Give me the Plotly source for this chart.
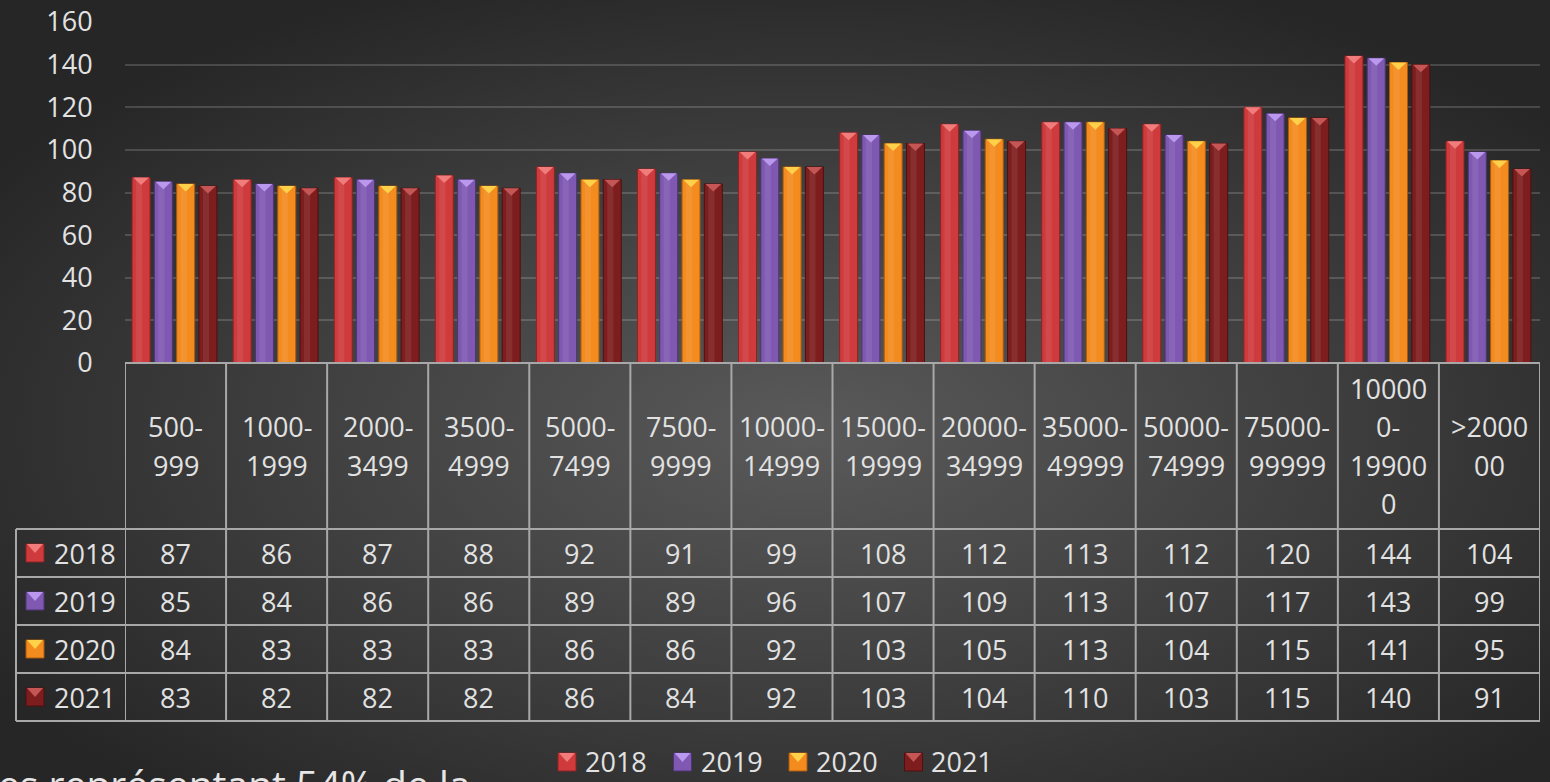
import base64
import plotly.graph_objects as go

# ---- data ----
categories = ["500-999", "1000-1999", "2000-3499", "3500-4999", "5000-7499",
              "7500-9999", "10000-14999", "15000-19999", "20000-34999",
              "35000-49999", "50000-74999", "75000-99999", "100000-199000",
              ">200000"]
years = ["2018", "2019", "2020", "2021"]
v2018 = [87, 86, 87, 88, 92, 91, 99, 108, 112, 113, 112, 120, 144, 104]
v2019 = [85, 84, 86, 86, 89, 89, 96, 107, 109, 113, 107, 117, 143, 99]
v2020 = [84, 83, 83, 83, 86, 86, 92, 103, 105, 113, 104, 115, 141, 95]
v2021 = [83, 82, 82, 82, 86, 84, 92, 103, 104, 110, 103, 115, 140, 91]
y_ticks = [0, 20, 40, 60, 80, 100, 120, 140, 160]
footer_text = "es représentant 54% de la"

series = [v2018, v2019, v2020, v2021]
base_colors = ["#CF3A3C", "#7F58B2", "#F38B1F", "#7D1D1E"]
cap_colors = ["#F07C7C", "#BA98EE", "#FFD04A", "#C45656"]
edge_colors = ["#8E2224", "#4E3474", "#A85A0E", "#4E1010"]

FONT = "Open Sans"
TXT = "#E2E2E2"
LINE = "#A8A8A8"

# ---- page geometry (pixels) ----
W, H = 1550, 782
ML, MR, MT, MB = 125, 10, 22, 419
PW, PH = W - ML - MR, H - MT - MB
AXIS_Y = H - MB                 # y pixel of the value 0 / table top
HEAD_BOT = 529                  # bottom of the category header row
ROW_H = 48
TABLE_LEFT = 16


def px_x(px):
    return (px - ML) / PW


def px_y(py):
    return (AXIS_Y - py) / PH


ncat = len(categories)
col_px = PW / ncat
bar_w = 18 / col_px
step = 22.3 / col_px
first_off = -(3 * step + bar_w) / 2 - 0.01
cap_h = 7.5 / PH * (y_ticks[-1] - y_ticks[0])

fig = go.Figure()
xs = list(range(ncat))

for k, (yr, vals) in enumerate(zip(years, series)):
    off = first_off + k * step
    fig.add_trace(go.Bar(
        x=xs, y=vals, name=yr, width=bar_w, offset=off,
        marker=dict(color=base_colors[k],
                    line=dict(color=edge_colors[k], width=1)),
        showlegend=False, hoverinfo="x+y+name",
    ))
    # soft sheen down the bar body
    fig.add_trace(go.Bar(
        x=xs, y=vals, width=bar_w * 0.34, offset=off + bar_w * 0.22,
        marker=dict(color="rgba(255,255,255,0.08)", line=dict(width=0)),
        showlegend=False, hoverinfo="skip",
    ))
    # bevelled cap on top of each bar
    tx, ty = [], []
    for i, v in enumerate(vals):
        x0 = i + off + bar_w * 0.06
        x1 = i + off + bar_w * 0.94
        xc = i + off + bar_w / 2
        tx += [x0, x1, xc, x0, None]
        ty += [v, v, v - cap_h, v, None]
    fig.add_trace(go.Scatter(
        x=tx, y=ty, mode="lines", fill="toself", fillcolor=cap_colors[k],
        line=dict(width=0, color=cap_colors[k]),
        showlegend=False, hoverinfo="skip",
    ))

shapes = []
annotations = []

# ---- table grid ----
x_right = 1.0
row_lines = [HEAD_BOT + r * ROW_H for r in range(len(years) + 1)]
table_bot = row_lines[-1]
shapes.append(dict(type="line", xref="paper", yref="paper",
                   x0=0, x1=x_right, y0=px_y(AXIS_Y), y1=px_y(AXIS_Y),
                   line=dict(color=LINE, width=2)))
for py in row_lines:
    shapes.append(dict(type="line", xref="paper", yref="paper",
                       x0=px_x(TABLE_LEFT), x1=x_right, y0=px_y(py), y1=px_y(py),
                       line=dict(color=LINE, width=2)))
for c in range(ncat + 1):
    shapes.append(dict(type="line", xref="x", yref="paper",
                       x0=c - 0.5, x1=c - 0.5,
                       y0=px_y(AXIS_Y), y1=px_y(table_bot),
                       line=dict(color=LINE, width=2)))
shapes.append(dict(type="line", xref="paper", yref="paper",
                   x0=px_x(TABLE_LEFT), x1=px_x(TABLE_LEFT),
                   y0=px_y(HEAD_BOT), y1=px_y(table_bot),
                   line=dict(color=LINE, width=2)))


def wrap(label, limit=5.6):
    """Greedy character wrap for the narrow header cells."""
    widths = {"-": 0.6}
    lines, cur, cw = [], "", 0.0
    for ch in label:
        w = widths.get(ch, 1.0)
        if cur and cw + w > limit:
            lines.append(cur)
            cur, cw = "", 0.0
        cur += ch
        cw += w
        if ch == "-":
            lines.append(cur)
            cur, cw = "", 0.0
    if cur:
        lines.append(cur)
    return lines


head_mid = (AXIS_Y + HEAD_BOT) / 2
line_gap = 38.3
for i, cat in enumerate(categories):
    parts = wrap(cat)
    n = len(parts)
    for j, part in enumerate(parts):
        cy = head_mid + (j - (n - 1) / 2) * line_gap
        annotations.append(dict(x=i, y=px_y(cy), xref="x", yref="paper",
                                text=part, showarrow=False,
                                xanchor="center", yanchor="middle",
                                font=dict(family=FONT, size=27, color=TXT)))


def key(px0, pyc, k):
    """Small bevelled colour key."""
    s = 18
    x0, x1 = px_x(px0), px_x(px0 + s)
    y0, y1 = px_y(pyc - s / 2), px_y(pyc + s / 2)
    xc, yc = px_x(px0 + s / 2), px_y(pyc)
    shapes.append(dict(type="rect", xref="paper", yref="paper",
                       x0=x0, x1=x1, y0=y1, y1=y0,
                       fillcolor=base_colors[k],
                       line=dict(color=edge_colors[k], width=1)))
    shapes.append(dict(type="path", xref="paper", yref="paper",
                       path=f"M {px_x(px0 + 1)},{y0} L {px_x(px0 + s - 1)},{y0} L {xc},{yc} Z",
                       fillcolor=cap_colors[k], line=dict(width=0)))


for r, (yr, vals) in enumerate(zip(years, series)):
    cy = HEAD_BOT + r * ROW_H + ROW_H / 2
    key(26, cy, r)
    annotations.append(dict(x=px_x(52), y=px_y(cy), xref="paper", yref="paper",
                            text=yr, showarrow=False, xanchor="left",
                            yanchor="middle",
                            font=dict(family=FONT, size=27, color=TXT)))
    for i, v in enumerate(vals):
        annotations.append(dict(x=i, y=px_y(cy), xref="x", yref="paper",
                                text=str(v), showarrow=False,
                                xanchor="center", yanchor="middle",
                                font=dict(family=FONT, size=27, color=TXT)))

# ---- bottom legend ----
leg_y = 761
leg_x0 = 558
leg_step = 115.5
for k, yr in enumerate(years):
    kx = leg_x0 + k * leg_step
    key(kx, leg_y + 1, k)
    annotations.append(dict(x=px_x(kx + 25), y=px_y(leg_y), xref="paper",
                            yref="paper", text=yr, showarrow=False,
                            xanchor="left", yanchor="middle",
                            font=dict(family=FONT, size=27, color=TXT)))

# caption text running off the lower edge
annotations.append(dict(x=px_x(-4), y=px_y(784), xref="paper", yref="paper",
                        text=footer_text, showarrow=False, xanchor="left",
                        yanchor="middle",
                        font=dict(family=FONT, size=39, color="#E6E6E6")))

# ---- radial background ----
svg = (
    f'<svg xmlns="http://www.w3.org/2000/svg" width="{W}" height="{H}">'
    '<defs><radialGradient id="g" cx="0.52" cy="0.55" r="0.62">'
    '<stop offset="0" stop-color="#5A5A5A"/>'
    '<stop offset="0.55" stop-color="#3E3E3E"/>'
    '<stop offset="1" stop-color="#262626"/>'
    '</radialGradient></defs>'
    f'<rect width="{W}" height="{H}" fill="url(#g)"/></svg>'
)
bg_src = "data:image/svg+xml;base64," + base64.b64encode(svg.encode()).decode()

fig.update_layout(
    width=W, height=H,
    margin=dict(l=ML, r=MR, t=MT, b=MB, pad=0, autoexpand=False),
    paper_bgcolor="#2E2E2E",
    plot_bgcolor="rgba(0,0,0,0)",
    barmode="overlay",
    showlegend=False,
    font=dict(family=FONT, color=TXT),
    images=[dict(source=bg_src, xref="paper", yref="paper",
                 x=px_x(0), y=px_y(0), sizex=W / PW, sizey=H / PH,
                 xanchor="left", yanchor="top", sizing="stretch",
                 layer="below")],
    shapes=shapes,
    annotations=annotations,
    xaxis=dict(range=[-0.5, ncat - 0.5], showticklabels=False,
               showgrid=False, zeroline=False, showline=False,
               automargin=False, fixedrange=True),
    yaxis=dict(range=[y_ticks[0], y_ticks[-1]], tickvals=y_ticks,
               showgrid=True, gridcolor="rgba(255,255,255,0.16)", gridwidth=1.5,
               zeroline=False, showline=False, automargin=False,
               ticks="outside", ticklen=26, tickcolor="rgba(0,0,0,0)",
               tickfont=dict(family=FONT, size=27, color=TXT),
               fixedrange=True),
)

fig.write_html("out.html")
